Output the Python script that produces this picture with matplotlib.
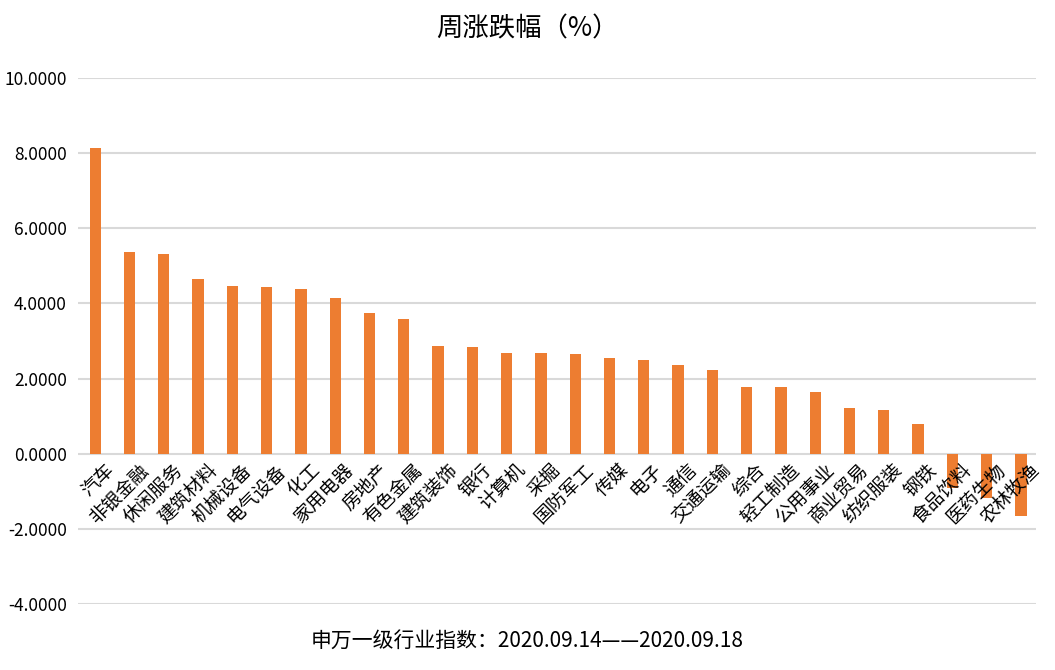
import numpy as np
import matplotlib
matplotlib.use("Agg")
import matplotlib.pyplot as plt

plt.rcParams['font.family'] = ['Noto Sans CJK SC', 'DejaVu Sans']

# data
industries = ['汽车', '非银金融', '休闲服务', '建筑材料', '机械设备', '电气设备', '化工', '家用电器',
              '房地产', '有色金属', '建筑装饰', '银行', '计算机', '采掘', '国防军工', '传媒', '电子',
              '通信', '交通运输', '综合', '轻工制造', '公用事业', '商业贸易', '纺织服装', '钢铁',
              '食品饮料', '医药生物', '农林牧渔']
changes = [8.14, 5.38, 5.32, 4.66, 4.47, 4.44, 4.39, 4.15,
           3.75, 3.59, 2.87, 2.85, 2.69, 2.69, 2.66, 2.56, 2.50,
           2.37, 2.24, 1.78, 1.78, 1.65, 1.22, 1.17, 0.80,
           -0.90, -1.16, -1.64]
yticks = [-4, -2, 0, 2, 4, 6, 8, 10]

fig = plt.figure(figsize=(10.55, 6.70), dpi=100)
ax = fig.add_axes([0.074, 0.098, 0.908, 0.786])

x = np.arange(len(industries))
ax.bar(x, changes, width=0.33, color='#ED7D31', zorder=3)

ax.set_ylim(-4, 10)
ax.set_xlim(-0.5, len(industries) - 0.56)
ax.set_yticks(yticks)
ax.set_yticklabels(['{:.4f}'.format(v) for v in yticks], fontsize=12.5)
ax.yaxis.grid(True, color='#d9d9d9', linewidth=1.5, zorder=0)
ax.set_xticks([])
ax.tick_params(axis='y', length=0, pad=8)
for s in ax.spines.values():
    s.set_visible(False)

# category labels sit just under the zero line
for xi, name in zip(x, industries):
    ax.text(xi + 0.25, -0.15, name, rotation=45, ha='right', va='top',
            fontsize=13.5, rotation_mode='anchor')

fig.text(0.5, 0.957, '周涨跌幅（%）', ha='center', va='center', fontsize=19)
fig.text(0.5, 0.044, '申万一级行业指数：2020.09.14——2020.09.18', ha='center', va='center', fontsize=15)

fig.savefig('out.png', dpi=100)
